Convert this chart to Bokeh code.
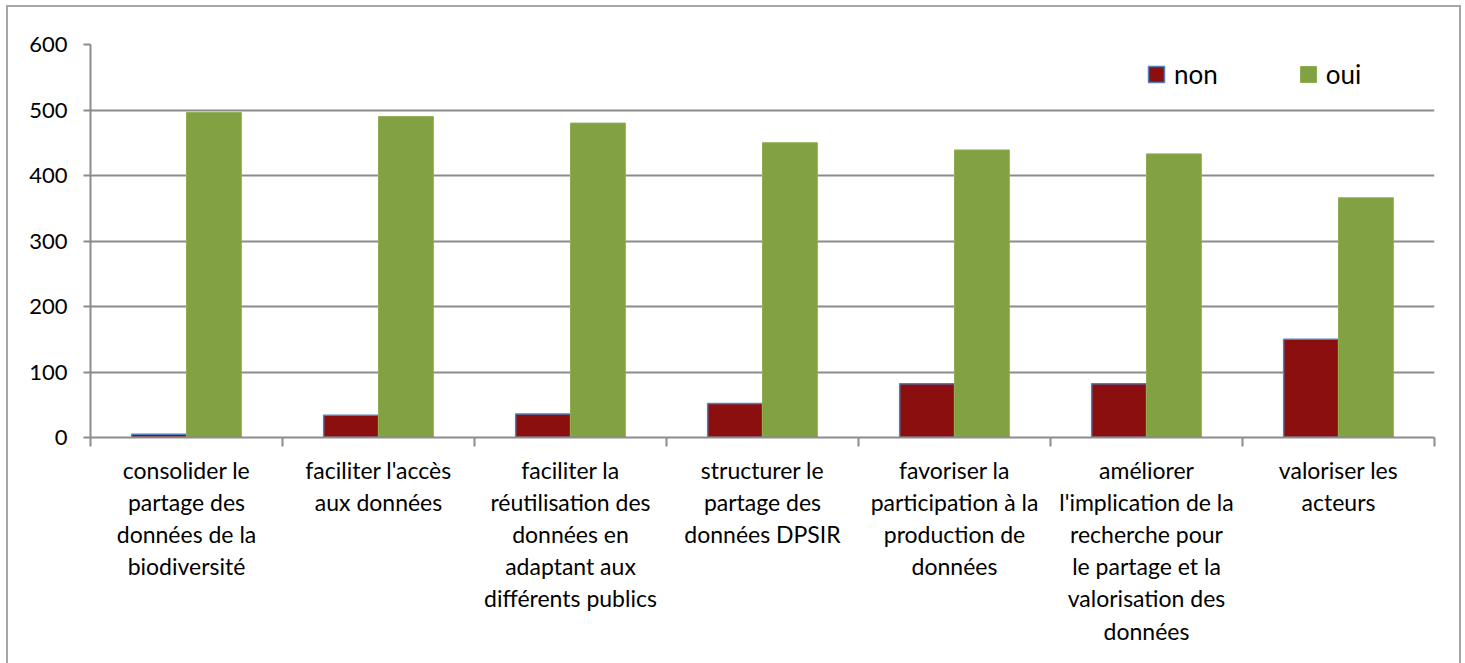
import numpy as np
from bokeh.plotting import figure
from bokeh.models import ColumnDataSource, FixedTicker, Range1d, Legend, LegendItem
from bokeh.embed import file_html
from bokeh.resources import INLINE

categories = [
    "consolider le\npartage des\ndonnées de la\nbiodiversité",
    "faciliter l'accès\naux données",
    "faciliter la\nréutilisation des\ndonnées en\nadaptant aux\ndifférents publics",
    "structurer le\npartage des\ndonnées DPSIR",
    "favoriser la\nparticipation à la\nproduction de\ndonnées",
    "améliorer\nl'implication de la\nrecherche pour\nle partage et la\nvalorisation des\ndonnées",
    "valoriser les\nacteurs",
]
non = [5, 34, 36, 52, 82, 82, 150]
oui = [496, 490, 480, 450, 439, 433, 366]
y_ticks = [0, 100, 200, 300, 400, 500, 600]

n = len(categories)
idx = np.arange(n)
centers = idx + 0.5
bw = 1 / 3.5

src = ColumnDataSource(dict(
    xn=centers - bw / 2, xo=centers + bw / 2, non=non, oui=oui))

FONT = "Lato"
GRID = "#8c8c8c"

p = figure(width=1455, height=660, output_backend="svg", toolbar_location=None,
           x_range=Range1d(0, n), y_range=Range1d(0, 600),
           min_border_left=82, min_border_right=29, min_border_top=37,
           min_border_bottom=230)
p.styles = {"border": "2px solid #a6a6a6", "box-sizing": "border-box",
            "margin": "5px 0 0 6px"}
p.outline_line_color = None
p.background_fill_color = "white"
p.border_fill_color = "white"

rn = p.vbar(x="xn", top="non", width=bw, source=src, fill_color="#8b0f0f",
            line_color="#4f81bd", line_width=1.5)
ro = p.vbar(x="xo", top="oui", width=bw, source=src, fill_color="#82a142",
            line_color="#8fae52", line_width=1)

# y axis
p.yaxis.ticker = FixedTicker(ticks=y_ticks, minor_ticks=[])
p.yaxis.axis_line_color = GRID
p.yaxis.axis_line_width = 2
p.yaxis.major_tick_line_color = GRID
p.yaxis.major_tick_line_width = 2
p.yaxis.major_tick_out = 7
p.yaxis.major_tick_in = 0
p.yaxis.major_label_standoff = 16
p.yaxis.major_label_text_font = FONT
p.yaxis.major_label_text_font_size = "22px"
p.yaxis.major_label_text_color = "black"

p.ygrid.ticker = FixedTicker(ticks=y_ticks)
p.ygrid.grid_line_color = GRID
p.ygrid.grid_line_width = 2
p.xgrid.grid_line_color = None

# x axis: labels at centers, ticks at boundaries
p.xaxis.ticker = FixedTicker(ticks=list(centers), minor_ticks=list(range(n + 1)))
p.xaxis.major_label_overrides = {float(c): lab for c, lab in zip(centers, categories)}
p.xaxis.axis_line_color = GRID
p.xaxis.axis_line_width = 2
p.xaxis.major_tick_line_color = None
p.xaxis.minor_tick_line_color = GRID
p.xaxis.minor_tick_line_width = 2
p.xaxis.minor_tick_out = 9
p.xaxis.minor_tick_in = 0
p.xaxis.major_label_standoff = 9
p.xaxis.major_label_text_font = FONT
p.xaxis.major_label_text_font_size = "23px"
p.xaxis.major_label_text_line_height = 1.15
p.xaxis.major_label_text_color = "black"

legend = Legend(items=[LegendItem(label="non", renderers=[rn]),
                       LegendItem(label="oui", renderers=[ro])],
                orientation="horizontal", location=(1056, 347))
legend.border_line_color = None
legend.background_fill_alpha = 0
legend.padding = 0
legend.margin = 0
legend.glyph_width = 20
legend.glyph_height = 20
legend.label_standoff = 8
legend.spacing = 80
legend.label_text_font = FONT
legend.label_text_font_size = "26px"
legend.label_text_color = "black"
p.add_layout(legend, "center")

open("out.html", "w").write(file_html(p, INLINE))
